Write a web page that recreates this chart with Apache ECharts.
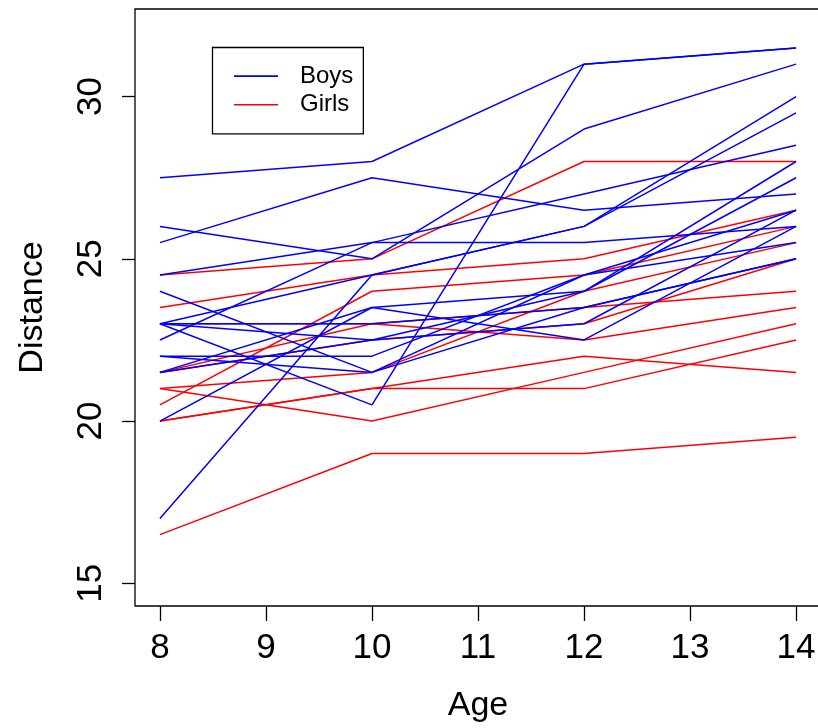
<!DOCTYPE html>
<html>
<head>
<meta charset="utf-8">
<script src="https://cdn.jsdelivr.net/npm/echarts@6/dist/echarts.min.js"></script>
<style>
html,body{margin:0;padding:0;background:#fff;overflow:hidden;width:818px;height:728px;}
#chart{width:826px;height:728px;}
</style>
</head>
<body>
<div id="chart"></div>
<script>
const ages = [8, 10, 12, 14];
const xTicks = [8, 9, 10, 11, 12, 13, 14];
const yTicks = [15, 20, 25, 30];

const boys = [
  [26, 25, 29, 31],
  [21.5, 22.5, 23, 26.5],
  [23, 22.5, 24, 27.5],
  [25.5, 27.5, 26.5, 27],
  [20, 23.5, 22.5, 26],
  [24.5, 25.5, 27, 28.5],
  [22, 22, 24.5, 26.5],
  [24, 21.5, 24.5, 25.5],
  [23, 20.5, 31, 31.5],
  [27.5, 28, 31, 31.5],
  [23, 23, 23.5, 25],
  [21.5, 23.5, 24, 28],
  [17, 24.5, 26, 29.5],
  [22.5, 25.5, 25.5, 26],
  [23, 24.5, 26, 30],
  [22, 21.5, 23.5, 25]
];

const girls = [
  [21, 20, 21.5, 23],
  [21, 21.5, 24, 25.5],
  [20.5, 24, 24.5, 26],
  [23.5, 24.5, 25, 26.5],
  [21.5, 23, 22.5, 23.5],
  [20, 21, 21, 22.5],
  [21.5, 22.5, 23, 25],
  [23, 23, 23.5, 24],
  [20, 21, 22, 21.5],
  [16.5, 19, 19, 19.5],
  [24.5, 25, 28, 28]
];

const FONT = 'Liberation Sans, Arial, sans-serif';

function mk(name, color, vals) {
  return {
    type: 'line', name: name, symbol: 'none', animation: false,
    lineStyle: { color: color, width: 1.5 }, itemStyle: { color: color },
    data: vals.map((v, i) => [ages[i], v])
  };
}

const series = [];
girls.forEach(g => series.push(mk('Girls', '#ff0000', g)));
boys.forEach(b => series.push(mk('Boys', '#0000ff', b)));

const chart = echarts.init(document.getElementById('chart'), null, { renderer: 'canvas' });
chart.setOption({
  animation: false,
  backgroundColor: '#fff',
  grid: {
    left: 135, top: 9, right: 5, bottom: 120.5,
    show: true, borderColor: '#000', borderWidth: 1.3, containLabel: false
  },
  legend: {
    data: ['Boys', 'Girls'],
    orient: 'vertical',
    left: 212.5, top: 47.5,
    itemWidth: 44, itemHeight: 1.6,
    icon: 'rect',
    itemGap: 4.7,
    borderColor: '#000', borderWidth: 1.3, borderRadius: 0,
    padding: [16.6, 10, 17, 21.5],
    selectedMode: false,
    textStyle: { fontFamily: FONT, fontSize: 24, color: '#000', padding: [0, 0, 0, 17] }
  },
  xAxis: {
    type: 'value', min: 7.765, max: 14.235,
    name: 'Age', nameLocation: 'middle', nameGap: 83,
    nameTextStyle: { fontFamily: FONT, fontSize: 34, color: '#000' },
    axisLine: { show: false },
    splitLine: { show: false },
    axisTick: { show: true, length: 15, customValues: xTicks, lineStyle: { color: '#000', width: 1.3 } },
    axisLabel: { customValues: xTicks, margin: 25, fontFamily: FONT, fontSize: 35, color: '#000' }
  },
  yAxis: {
    type: 'value', min: 14.3, max: 32.7,
    name: 'Distance', nameLocation: 'middle', nameGap: 85, nameRotate: 90,
    nameTextStyle: { fontFamily: FONT, fontSize: 34, color: '#000' },
    axisLine: { show: false },
    splitLine: { show: false },
    axisTick: { show: true, length: 13, customValues: yTicks, lineStyle: { color: '#000', width: 1.3 } },
    axisLabel: { customValues: yTicks, rotate: 90, margin: 26, fontFamily: FONT, fontSize: 35, color: '#000' }
  },
  series: series
});
</script>
</body>
</html>
